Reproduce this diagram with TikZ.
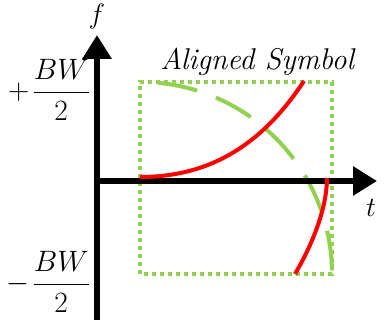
\RequirePackage{fix-cm}
\documentclass[tikz,border=0pt]{standalone}
\usepackage{amsmath}
\usetikzlibrary{arrows.meta}
\definecolor{lgreen}{HTML}{92D050}
\definecolor{lred}{HTML}{FF0000}
\begin{document}
\begin{tikzpicture}[x=1pt,y=1pt,
  axis/.style={line width=6pt,-{Triangle[length=24pt,width=28pt]}},
  redc/.style={draw=lred,line width=4pt},
  greenbox/.style={draw=lgreen,line width=4pt,dash pattern=on 4pt off 4pt},
  greenarc/.style={draw=lgreen,line width=4pt,dash pattern=on 40pt off 20pt,dash phase=42pt},
  lbl/.style={inner sep=0pt,font=\fontsize{28}{32}\selectfont},
  frac/.style={inner sep=0pt,anchor=east,font=\fontsize{29.5}{34}\selectfont}]
\useasboundingbox (0,0) rectangle (384,320);
% coordinates
\coordinate (ytop) at (97,285);
\coordinate (ybot) at (97,0);
\coordinate (xstart) at (94,139);
\coordinate (xend) at (377,139);
\coordinate (bl) at (140,46);
\coordinate (tr) at (332,238);
\coordinate (arcs) at (140,238);
% green box and arc
\draw[greenbox] (bl) rectangle (tr);
\draw[greenarc] (arcs) arc[start angle=90,end angle=0,radius=192];
% axes
\draw[axis] (ybot) -- (ytop);
\draw[axis] (xstart) -- (xend);
% red curves
\coordinate (r1a) at (140,143);
\coordinate (r1b) at (304,239);
\coordinate (r2a) at (327,142);
\coordinate (r2b) at (295,46);
\draw[redc] (r1a) .. controls (215,143) and (265,180) .. (r1b);
\draw[redc] (r2a) .. controls (327,115) and (315,80) .. (r2b);
% labels
\node[lbl] (f) at (97,303) {$f$};
\node[lbl] (t) at (371,112) {$t$};
\node[lbl,font=\fontsize{30}{34}\selectfont] (title) at (258,258) {\textit{Aligned Symbol}};
\node[frac] (pbw) at (90,230) {$+\mkern2mu\dfrac{BW}{2}$};
\node[frac] (mbw) at (90,38) {$-\mkern2mu\dfrac{BW}{2}$};
\end{tikzpicture}
\end{document}
